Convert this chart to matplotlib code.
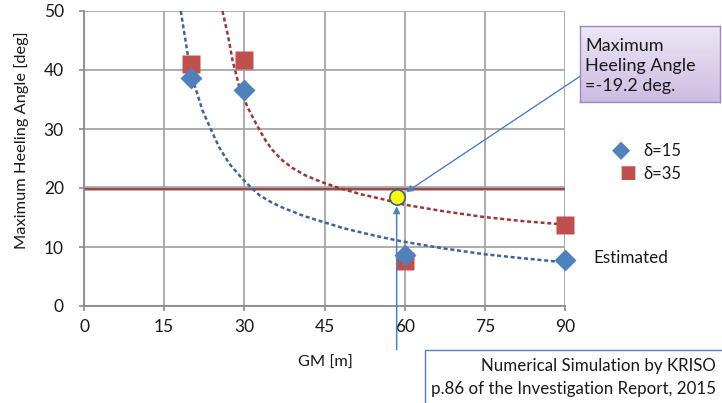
import numpy as np
import matplotlib.pyplot as plt
from matplotlib.patches import Rectangle
from matplotlib.colors import LinearSegmentedColormap

plt.rcParams['font.family'] = ['Lato', 'DejaVu Sans']

# measured points
gm = [20, 30, 60, 90]
heel_d15 = [38.6, 36.6, 8.6, 7.8]
heel_d35 = [41.0, 41.7, 7.6, 13.7]

# dashed trend curves
trend15_x = [18.1, 19.1, 19.9, 21.0, 22.2, 23.8, 25.3, 27.2, 29.4, 30.9, 32.8, 35.0, 37.1, 41.0, 44.9, 48.5, 52.6, 56.0, 59.8, 67.0, 74.7, 82.0, 90.0]
trend15_y = [50.0, 44.4, 39.8, 36.5, 33.1, 29.8, 26.9, 24.1, 21.8, 20.4, 18.8, 17.6, 16.7, 15.3, 14.2, 13.2, 12.3, 11.6, 10.9, 9.8, 8.8, 8.1, 7.4]
trend35_x = [25.9, 26.9, 27.8, 29.1, 30.6, 32.2, 34.0, 35.3, 37.1, 39.0, 41.5, 44.5, 47.7, 52.0, 56.4, 59.8, 67.0, 74.7, 82.0, 90.0]
trend35_y = [50.0, 46.0, 41.6, 37.0, 33.7, 30.9, 28.0, 26.4, 24.7, 23.4, 22.1, 21.0, 20.0, 18.9, 18.0, 17.2, 16.1, 15.1, 14.4, 13.8]

limit_heel = 19.8
actual_gm, actual_heel = 58.5, 18.4

x_ticks = [0, 15, 30, 45, 60, 75, 90]
y_ticks = [0, 10, 20, 30, 40, 50]

blue = '#4F81BD'
red = '#C0504D'
blue_dark = '#3B659A'
red_dark = '#9E3734'
grid_c = '#A6A6A6'
txt_c = '#1A1A1A'

fig = plt.figure(figsize=(7.22, 4.03), dpi=100)
ax = fig.add_axes([84 / 722, 97 / 403, 481 / 722, 295 / 403])
ax.set_xlim(0, 90)
ax.set_ylim(0, 50)
ax.set_xticks(x_ticks)
ax.set_yticks(y_ticks)
ax.grid(True, color=grid_c, lw=1.3, zorder=0)
for s in ['top', 'right']:
    ax.spines[s].set_visible(False)
for s in ['left', 'bottom']:
    ax.spines[s].set_color('#8C8C8C')
    ax.spines[s].set_linewidth(1.3)
ax.tick_params(axis='x', length=3.5, width=1.2, color='#8C8C8C', pad=6, labelsize=12.5, labelcolor=txt_c)
ax.tick_params(axis='y', length=3.5, width=1.2, color='#8C8C8C', pad=11, labelsize=12.5, labelcolor=txt_c)

# limit line at ~20 deg
ax.axhline(limit_heel + 0.15, color='#8C8C8C', lw=3.5, alpha=0.7, zorder=1)
ax.axhline(limit_heel, color=red_dark, lw=1.2, zorder=2)

ax.plot(trend15_x, trend15_y, color=blue_dark, lw=1.8, ls=(0, (1.6, 1.1)), zorder=3)
ax.plot(trend35_x, trend35_y, color=red_dark, lw=1.8, ls=(0, (1.6, 1.1)), zorder=3)

ax.plot(gm, heel_d35, 's', color=red, ms=13.5, mec='none', clip_on=False, zorder=4)
ax.plot(gm, heel_d15, 'D', color=blue, ms=11.5, mec='none', clip_on=False, zorder=5)

ax.plot([actual_gm], [actual_heel], 'o', ms=11, color='#FFFF00', mec='#3B5E8C', mew=1.2, zorder=6, clip_on=False)

# vertical arrow from below the axis to the point
ax.annotate('', xy=(actual_gm, actual_heel - 1.5), xytext=(actual_gm, -7.4),
            arrowprops=dict(arrowstyle='-|>', color=blue, lw=1.1, mutation_scale=10, shrinkA=0, shrinkB=0),
            annotation_clip=False, zorder=7)
# callout arrow from purple box
ax.annotate('', xy=(60.3, 19.3), xycoords='data',
            xytext=(582, 403 - 75), textcoords='figure pixels',
            arrowprops=dict(arrowstyle='-|>', color=blue, lw=1.0, mutation_scale=10, shrinkA=0, shrinkB=0),
            annotation_clip=False, zorder=7)

# purple callout box with gradient
bx = fig.add_axes([580 / 722, (403 - 102) / 403, 140 / 722, 76 / 403])
grad = np.linspace(0, 1, 100).reshape(-1, 1)
cm = LinearSegmentedColormap.from_list('pp', ['#ECE6F4', '#CDBDE2'])
bx.imshow(grad, aspect='auto', cmap=cm, extent=[0, 1, 0, 1], origin='upper')
bx.set_xticks([])
bx.set_yticks([])
for s in bx.spines.values():
    s.set_color('#9E87C2')
    s.set_linewidth(1.0)
bx.text(0.035, 0.47, 'Maximum\nHeeling Angle\n=-19.2 deg.', transform=bx.transAxes,
        ha='left', va='center', fontsize=13, color=txt_c, linespacing=1.32)

# legend
fig.text(612 / 722, 1 - 151 / 403, '\u25C6', fontsize=17, color=blue, ha='left', va='center')
fig.text(619 / 722, 1 - 173 / 403, '\u25A0', fontsize=13, color=red, ha='left', va='center')
fig.text(643 / 722, 1 - 151 / 403, '\u03b4=15', fontsize=12, color=txt_c, ha='left', va='center')
fig.text(643 / 722, 1 - 174 / 403, '\u03b4=35', fontsize=12, color=txt_c, ha='left', va='center')

fig.text(593 / 722, 1 - 258 / 403, 'Estimated', fontsize=12.3, color=txt_c, ha='left', va='center')

fig.text(325 / 722, 1 - 363 / 403, 'GM [m]', fontsize=11.8, color=txt_c, ha='center', va='center')
fig.text(22 / 722, 1 - 140 / 403, 'Maximum Heeling Angle [deg]', fontsize=11.8, color=txt_c,
         ha='center', va='center', rotation=90)

# source box at the bottom
fig.patches.append(Rectangle((425 / 722, -0.05), 0.5, (403 - 350) / 403 + 0.05,
                             transform=fig.transFigure, facecolor='white',
                             edgecolor=blue, lw=1.0, zorder=5))
fig.text(716 / 722, 1 - 366 / 403, 'Numerical Simulation by KRISO', fontsize=12.2,
         color=txt_c, ha='right', va='center', zorder=6)
fig.text(716 / 722, 1 - 389 / 403, 'p.86 of the Investigation Report, 2015', fontsize=12.2,
         color=txt_c, ha='right', va='center', zorder=6)

fig.savefig('out.png', dpi=100)
